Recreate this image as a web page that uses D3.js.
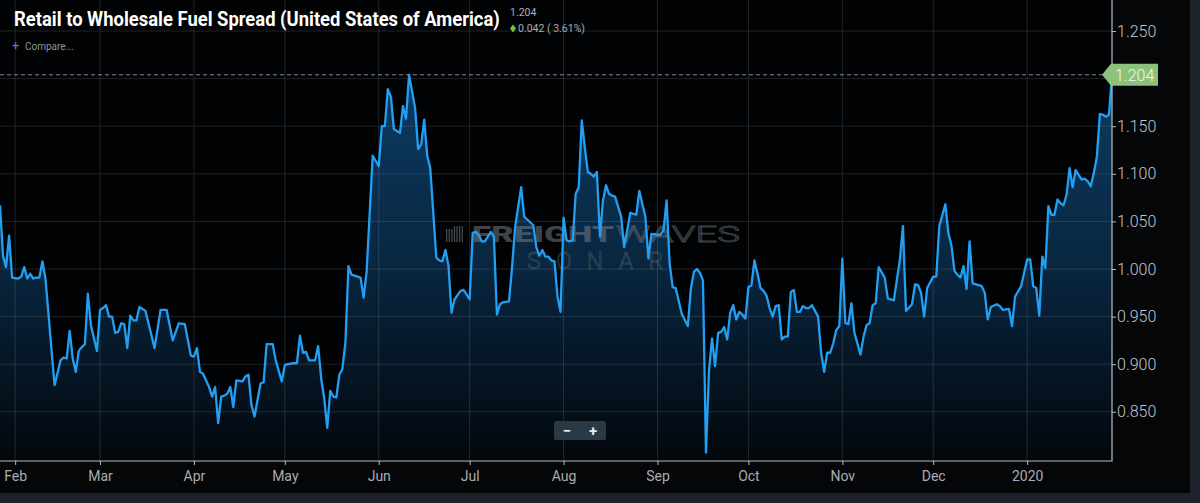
<!DOCTYPE html>
<html>
<head>
<meta charset="utf-8">
<script src="https://cdn.jsdelivr.net/npm/d3@7"></script>
<style>
  html, body { margin: 0; padding: 0; background: #1b2229; }
  body { width: 1200px; height: 503px; overflow: hidden; font-family: Roboto, "Noto Sans", sans-serif; }
</style>
</head>
<body>
<div class="chartContainer"></div>
<script>
// Retail to wholesale fuel spread, USD/gal
const dates = [
  "2019-01-27","2019-01-28","2019-01-29","2019-01-30","2019-01-31",
  "2019-02-02","2019-02-03","2019-02-04","2019-02-05","2019-02-06","2019-02-07","2019-02-08","2019-02-09","2019-02-10","2019-02-11","2019-02-14","2019-02-16","2019-02-17","2019-02-18","2019-02-19","2019-02-20","2019-02-21","2019-02-22","2019-02-23","2019-02-24","2019-02-25","2019-02-26","2019-02-28",
  "2019-03-01","2019-03-02","2019-03-03","2019-03-04","2019-03-05","2019-03-06","2019-03-07","2019-03-08","2019-03-09","2019-03-10","2019-03-11","2019-03-12","2019-03-13","2019-03-14","2019-03-15","2019-03-16","2019-03-19","2019-03-21","2019-03-23","2019-03-25","2019-03-27","2019-03-29","2019-03-31",
  "2019-04-01","2019-04-02","2019-04-03","2019-04-04","2019-04-06","2019-04-07","2019-04-08","2019-04-09","2019-04-10","2019-04-11","2019-04-12","2019-04-13","2019-04-14","2019-04-15","2019-04-17","2019-04-18","2019-04-19","2019-04-20","2019-04-21","2019-04-23","2019-04-24","2019-04-25","2019-04-27","2019-04-28","2019-04-30",
  "2019-05-01","2019-05-02","2019-05-04","2019-05-05","2019-05-06","2019-05-07","2019-05-08","2019-05-09","2019-05-11","2019-05-12","2019-05-13","2019-05-14","2019-05-15","2019-05-16","2019-05-17","2019-05-18","2019-05-19","2019-05-20","2019-05-21","2019-05-22","2019-05-23","2019-05-25","2019-05-26","2019-05-27","2019-05-28","2019-05-30",
  "2019-06-01","2019-06-02","2019-06-03","2019-06-04","2019-06-05","2019-06-06","2019-06-07","2019-06-08","2019-06-09","2019-06-10","2019-06-11","2019-06-13","2019-06-14","2019-06-15","2019-06-16","2019-06-17","2019-06-18","2019-06-20","2019-06-21","2019-06-22","2019-06-23","2019-06-24","2019-06-25","2019-06-26","2019-06-28","2019-06-29",
  "2019-07-01","2019-07-02","2019-07-03","2019-07-04","2019-07-05","2019-07-06","2019-07-08","2019-07-09","2019-07-10","2019-07-11","2019-07-12","2019-07-14","2019-07-15","2019-07-16","2019-07-18","2019-07-19","2019-07-20","2019-07-22","2019-07-23","2019-07-24","2019-07-25","2019-07-26","2019-07-27","2019-07-28","2019-07-29","2019-07-30","2019-07-31",
  "2019-08-01","2019-08-02","2019-08-03","2019-08-04","2019-08-05","2019-08-06","2019-08-07","2019-08-08","2019-08-09","2019-08-10","2019-08-11","2019-08-12","2019-08-13","2019-08-14","2019-08-15","2019-08-16","2019-08-17","2019-08-18","2019-08-20","2019-08-21","2019-08-23","2019-08-25","2019-08-26","2019-08-28","2019-08-29","2019-08-30",
  "2019-09-01","2019-09-02","2019-09-03","2019-09-04","2019-09-05","2019-09-06","2019-09-07","2019-09-09","2019-09-11","2019-09-12","2019-09-13","2019-09-14","2019-09-15","2019-09-16","2019-09-17","2019-09-18","2019-09-19","2019-09-20","2019-09-21","2019-09-22","2019-09-23","2019-09-24","2019-09-25","2019-09-26","2019-09-27","2019-09-28","2019-09-29","2019-09-30",
  "2019-10-01","2019-10-02","2019-10-03","2019-10-04","2019-10-05","2019-10-06","2019-10-07","2019-10-08","2019-10-09","2019-10-10","2019-10-11","2019-10-12","2019-10-13","2019-10-14","2019-10-15","2019-10-16","2019-10-17","2019-10-18","2019-10-19","2019-10-20","2019-10-21","2019-10-22","2019-10-24","2019-10-25","2019-10-26","2019-10-27","2019-10-28","2019-10-29","2019-10-30","2019-10-31",
  "2019-11-01","2019-11-02","2019-11-03","2019-11-04","2019-11-05","2019-11-07","2019-11-08","2019-11-09","2019-11-10","2019-11-11","2019-11-12","2019-11-13","2019-11-15","2019-11-16","2019-11-17","2019-11-18","2019-11-20","2019-11-21","2019-11-22","2019-11-24","2019-11-25","2019-11-26","2019-11-27","2019-11-28","2019-11-29","2019-11-30",
  "2019-12-01","2019-12-02","2019-12-03","2019-12-05","2019-12-06","2019-12-07","2019-12-08","2019-12-09","2019-12-10","2019-12-11","2019-12-12","2019-12-13","2019-12-14","2019-12-16","2019-12-17","2019-12-18","2019-12-19","2019-12-20","2019-12-22","2019-12-23","2019-12-24","2019-12-26","2019-12-27","2019-12-28","2019-12-30","2019-12-31",
  "2020-01-01","2020-01-02","2020-01-03","2020-01-04","2020-01-05","2020-01-06","2020-01-07","2020-01-08","2020-01-09","2020-01-10","2020-01-11","2020-01-12","2020-01-13","2020-01-14","2020-01-15","2020-01-16","2020-01-17","2020-01-18","2020-01-19","2020-01-20","2020-01-21","2020-01-22","2020-01-23","2020-01-24","2020-01-25","2020-01-26","2020-01-27","2020-01-28","2020-01-29"
];
const spread = [
  1.067,1.014,1.002,1.035,0.991,
  0.990,0.992,1.002,0.990,0.995,0.990,0.991,0.991,1.008,0.990,0.878,0.904,0.907,0.906,0.935,0.906,0.892,0.914,0.918,0.921,0.974,0.941,0.914,
  0.957,0.959,0.962,0.950,0.950,0.933,0.934,0.943,0.942,0.917,0.951,0.946,0.946,0.960,0.958,0.956,0.917,0.957,0.957,0.925,0.943,0.942,0.909,
  0.908,0.917,0.892,0.890,0.876,0.866,0.876,0.838,0.866,0.867,0.869,0.876,0.855,0.883,0.882,0.887,0.889,0.857,0.845,0.880,0.881,0.921,0.921,0.904,0.882,
  0.899,0.900,0.901,0.901,0.930,0.912,0.913,0.904,0.904,0.919,0.885,0.864,0.833,0.872,0.866,0.865,0.889,0.895,0.923,1.003,0.994,0.992,0.991,0.970,0.997,1.119,
  1.108,1.150,1.150,1.189,1.181,1.147,1.145,1.143,1.171,1.158,1.204,1.169,1.126,1.131,1.157,1.119,1.106,1.012,1.009,1.008,1.020,1.004,0.954,0.968,0.977,0.978,
  0.968,1.038,1.039,1.036,1.029,1.029,1.039,1.034,0.952,0.963,0.965,0.966,1.002,1.044,1.086,1.055,1.052,1.046,1.023,1.014,1.020,1.013,1.013,1.009,1.008,0.971,0.955,
  1.054,1.030,1.029,1.030,1.079,1.086,1.156,1.128,1.102,1.100,1.097,1.102,1.034,1.072,1.088,1.079,1.077,1.076,1.055,1.023,1.059,1.057,1.082,1.055,1.011,1.037,
  1.036,1.036,1.041,1.072,1.006,0.981,0.980,0.953,0.940,0.979,0.997,1.000,0.996,0.988,0.807,0.894,0.927,0.898,0.933,0.934,0.939,0.926,0.954,0.962,0.947,0.955,0.952,0.948,
  0.981,0.983,1.009,0.995,0.980,0.977,0.972,0.959,0.950,0.961,0.962,0.926,0.929,0.929,0.976,0.978,0.955,0.955,0.961,0.959,0.959,0.962,0.950,0.912,0.892,0.912,0.912,0.922,0.936,0.940,
  1.011,0.943,0.942,0.964,0.933,0.910,0.929,0.941,0.943,0.962,0.964,1.002,0.991,0.969,0.968,0.967,1.010,1.045,0.956,0.963,0.984,0.983,0.975,0.950,0.980,0.986,
  0.992,0.992,1.045,1.068,1.038,1.025,0.998,0.994,0.991,1.003,0.979,1.029,0.985,0.983,0.982,0.975,0.947,0.960,0.963,0.961,0.957,0.958,0.940,0.971,0.982,0.996,
  1.010,1.010,0.982,0.980,0.951,1.013,1.001,1.066,1.057,1.057,1.073,1.069,1.067,1.078,1.106,1.086,1.104,1.099,1.094,1.095,1.092,1.087,1.101,1.118,1.163,1.162,1.160,1.162,1.204
];
const yTicks = [0.85, 0.9, 0.95, 1.0, 1.05, 1.1, 1.15, 1.2, 1.25];
const yLabelTicks = [0.85, 0.9, 0.95, 1.0, 1.05, 1.1, 1.15, 1.25];
const lastValue = 1.204;
const change = "0.042 ( 3.61%)";
const titleText = "Retail to Wholesale Fuel Spread (United States of America)";

// Variables and constants
const W = 1200;
const H = 503;
const PW = 1112; // plot right edge
const PH = 461;  // plot bottom edge

const parse = d3.timeParse("%Y-%m-%d");
const data = dates.map((d, i) => ({ date: parse(d), value: spread[i] }));

const x = d3.scaleTime()
  .domain([parse("2019-01-27"), parse("2020-01-29")])
  .range([0, PW]);
const y = d3.scaleLinear()
  .domain([0.7983, 1.2826])
  .range([PH, 0]);

const svg = d3.select(".chartContainer")
  .append("svg")
  .attr("width", W)
  .attr("height", H)
  .style("display", "block");

// Panel and plot backgrounds
svg.append("rect").attr("x", 0).attr("y", 0).attr("width", 1190).attr("height", 493).attr("fill", "#050608");
svg.append("rect").attr("x", 0).attr("y", 0).attr("width", PW).attr("height", PH).attr("fill", "#010203");

// Gradient for the area
const defs = svg.append("defs");
const grad = defs.append("linearGradient")
  .attr("id", "areaGrad")
  .attr("gradientUnits", "userSpaceOnUse")
  .attr("x1", 0).attr("x2", 0)
  .attr("y1", y(1.204)).attr("y2", PH);
grad.append("stop").attr("offset", "0%").attr("stop-color", "#0d3b62");
grad.append("stop").attr("offset", "50%").attr("stop-color", "#08263f");
grad.append("stop").attr("offset", "100%").attr("stop-color", "#03070c");

// Area
const area = d3.area()
  .x((d) => x(d.date))
  .y0(PH)
  .y1((d) => y(d.value));
svg.append("path")
  .datum(data)
  .attr("d", area)
  .attr("fill", "url(#areaGrad)");

// Gridlines (drawn over the area, as in the original)
const months = x.ticks(d3.timeMonth.every(1));
svg.append("g")
  .selectAll("line")
  .data(months)
  .enter()
  .append("line")
  .attr("x1", (d) => x(d)).attr("x2", (d) => x(d))
  .attr("y1", 0).attr("y2", PH)
  .attr("stroke", "#8f99a5")
  .attr("stroke-opacity", 0.22)
  .attr("stroke-width", 1);
svg.append("g")
  .selectAll("line")
  .data(yTicks)
  .enter()
  .append("line")
  .attr("x1", 0).attr("x2", PW)
  .attr("y1", (d) => y(d)).attr("y2", (d) => y(d))
  .attr("stroke", "#8f99a5")
  .attr("stroke-opacity", 0.22)
  .attr("stroke-width", 1);

// Watermark
const wm = svg.append("g").attr("opacity", 0.5);
wm.selectAll("rect")
  .data([0, 1, 2, 3, 4, 5, 6])
  .enter()
  .append("rect")
  .attr("x", (d) => 446 + d * 2.6)
  .attr("y", (d) => 226 + (d < 3 ? 3 : 0))
  .attr("width", 1.3)
  .attr("height", (d) => (d < 3 ? 13 : 16))
  .attr("fill", "#8a8f96");
wm.append("text")
  .attr("x", 472).attr("y", 242)
  .attr("textLength", 142).attr("lengthAdjust", "spacingAndGlyphs")
  .style("font-size", "22px").style("font-weight", 900)
  .attr("fill", "#7d8289")
  .text("FREIGHT");
wm.append("text")
  .attr("x", 616).attr("y", 242)
  .attr("textLength", 124).attr("lengthAdjust", "spacingAndGlyphs")
  .style("font-size", "22px").style("font-weight", 300)
  .attr("fill", "none").attr("stroke", "#7d8289").attr("stroke-width", 0.8)
  .text("WAVES");
wm.append("text")
  .attr("x", 527).attr("y", 269)
  .attr("textLength", 136).attr("lengthAdjust", "spacing")
  .style("font-size", "23px").style("font-weight", 300)
  .attr("fill", "none").attr("stroke", "#61666d").attr("stroke-width", 0.8)
  .text("SONAR");

// Line
const line = d3.line()
  .x((d) => x(d.date))
  .y((d) => y(d.value));
svg.append("path")
  .datum(data)
  .attr("d", line)
  .attr("fill", "none")
  .attr("stroke", "#229ff2")
  .attr("stroke-width", 2.3)
  .attr("stroke-linejoin", "round");

// Last value dashed line
svg.append("line")
  .attr("x1", 0).attr("x2", PW - 8)
  .attr("y1", y(lastValue)).attr("y2", y(lastValue))
  .attr("stroke", "#8a8d92")
  .attr("stroke-width", 1)
  .attr("stroke-dasharray", "4,3");

// Plot border (right and bottom)
svg.append("path")
  .attr("d", `M${PW},0V${PH}H0`)
  .attr("fill", "none")
  .attr("stroke", "#b8bcc2")
  .attr("stroke-width", 1.2);

// Axes
const xAxis = d3.axisBottom(x)
  .ticks(d3.timeMonth.every(1))
  .tickSize(4)
  .tickSizeOuter(0)
  .tickFormat((d) => (d.getMonth() === 0 ? d3.timeFormat("%Y")(d) : d3.timeFormat("%b")(d)));
const gx = svg.append("g").attr("transform", `translate(0,${PH})`).call(xAxis);
gx.select(".domain").remove();
gx.selectAll("line").attr("stroke", "#b8bcc2");
gx.selectAll("text")
  .attr("y", 10)
  .attr("fill", "#a9adb3")
  .style("font-size", "14px")
  .style("font-family", "Roboto")
  .attr("dy", "0.71em");

const yAxis = d3.axisRight(y)
  .tickValues(yLabelTicks)
  .tickSize(4)
  .tickFormat(d3.format(".3f"));
const gy = svg.append("g").attr("transform", `translate(${PW},0)`).call(yAxis);
gy.select(".domain").remove();
gy.selectAll("line").attr("stroke", "#b8bcc2");
gy.selectAll("text")
  .attr("x", 5)
  .attr("fill", "#c4c7cc")
  .style("font-size", "16px")
  .style("font-weight", 300)
  .style("font-family", "Roboto");

// Price tag
const ty = y(lastValue);
svg.append("path")
  .attr("d", `M${PW - 10},${ty} L${PW - 1},${ty - 11} H${PW + 46} V${ty + 11} H${PW - 1} Z`)
  .attr("fill", "#8dc27a");
svg.append("text")
  .attr("x", PW + 3).attr("y", ty + 6)
  .attr("fill", "#f4f7f2")
  .style("font-size", "16px")
  .style("font-weight", 300)
  .text(d3.format(".3f")(lastValue));

// Title (squeezed horizontally to look condensed)
const title = svg.append("text")
  .attr("x", 0).attr("y", 0)
  .attr("fill", "#ffffff")
  .style("font-size", "20px")
  .style("font-weight", 700)
  .text(titleText);
const natural = title.node().getComputedTextLength();
title.attr("transform", `translate(14,26) scale(${486 / natural},1)`);

// Header values
svg.append("text")
  .attr("x", 510).attr("y", 16)
  .attr("fill", "#a9adb3")
  .style("font-size", "10.5px")
  .text(d3.format(".3f")(lastValue));
svg.append("path")
  .attr("d", "M513,24.5 L516,28.5 L513,32.5 L510,28.5 Z")
  .attr("fill", "#74c04f");
svg.append("text")
  .attr("x", 518).attr("y", 32)
  .attr("fill", "#a9adb3")
  .style("font-size", "10.5px")
  .text(change);
svg.append("text")
  .attr("x", 12).attr("y", 50)
  .attr("fill", "#4d7fe6")
  .style("font-size", "13px")
  .text("+");
svg.append("text")
  .attr("x", 25).attr("y", 50)
  .attr("fill", "#8f949a")
  .style("font-size", "10px")
  .text("Compare...");

// Zoom buttons
svg.append("rect")
  .attr("x", 554).attr("y", 421)
  .attr("width", 52).attr("height", 19)
  .attr("rx", 2)
  .attr("fill", "#2a3946");
svg.append("text")
  .attr("x", 567).attr("y", 436)
  .attr("text-anchor", "middle")
  .attr("fill", "#e8ecef")
  .style("font-size", "15px").style("font-weight", 700)
  .text("−");
svg.append("text")
  .attr("x", 593).attr("y", 436)
  .attr("text-anchor", "middle")
  .attr("fill", "#e8ecef")
  .style("font-size", "15px").style("font-weight", 700)
  .text("+");
</script>
</body>
</html>
